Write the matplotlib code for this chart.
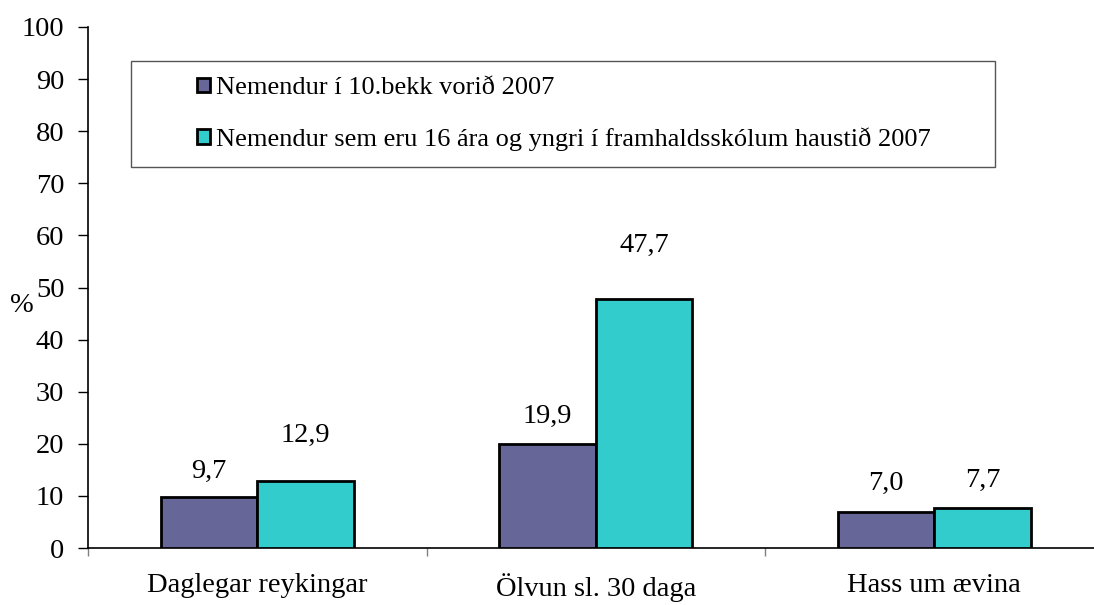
import numpy as np
import matplotlib.pyplot as plt
from matplotlib.patches import Rectangle

categories = ["Daglegar reykingar", "Ölvun sl. 30 daga", "Hass um ævina"]
series_names = ["Nemendur í 10.bekk vorið 2007",
                "Nemendur sem eru 16 ára og yngri í framhaldsskólum haustið 2007"]
grade10 = [9.7, 19.9, 7.0]
age16 = [12.9, 47.7, 7.7]

# label gap above each bar (points), as placed in the original
gap10 = [9.5, 11, 11.5]
gap16 = [24, 30, 11]

plt.rcParams['font.family'] = ['Liberation Serif', 'DejaVu Serif']

fig = plt.figure(figsize=(10.94, 6.05), dpi=100)
ax = fig.add_axes([88 / 1094, 1 - 548 / 605, 1 - 88 / 1094, (548 - 27) / 605])

x = np.arange(len(categories))
w = 0.285
b1 = ax.bar(x - w / 2, grade10, w, color='#666699', edgecolor='black', linewidth=2,
            label=series_names[0], zorder=3)
b2 = ax.bar(x + w / 2, age16, w, color='#33CCCC', edgecolor='black', linewidth=2,
            label=series_names[1], zorder=3)

for bars, gaps in ((b1, gap10), (b2, gap16)):
    for r, g in zip(bars, gaps):
        v = r.get_height()
        ax.annotate(f"{v:.1f}".replace('.', ','), (r.get_x() + r.get_width() / 2, v),
                    xytext=(0, g), textcoords='offset points', ha='center', va='bottom',
                    fontsize=20.5)

ax.set_xlim(-0.5, (1094 - 88) / 338.5 - 0.5)
ax.set_ylim(0, 100)
ax.set_yticks(range(0, 101, 10))
ax.tick_params(axis='y', labelsize=20.5, length=7, width=1, direction='out', pad=10)
ax.set_xticks(x)
ax.set_xticklabels(categories)
ax.tick_params(axis='x', labelsize=20.5, length=0, pad=18)
ax.set_xticks([-0.5, 0.5, 1.5], minor=True)
ax.tick_params(axis='x', which='minor', length=6, width=1, color='gray')
for s in ('top', 'right'):
    ax.spines[s].set_visible(False)
ax.spines['left'].set_linewidth(1.2)
ax.spines['bottom'].set_linewidth(1.2)
ax.set_ylabel('%', rotation=0, fontsize=20.5, va='center', ha='center')
ax.yaxis.set_label_coords((22 - 88) / 1006, (548 - 305) / 521)

# legend box drawn separately, entries placed inside
ax.add_patch(Rectangle(((131 - 88) / 1006, (548 - 167) / 521), (995 - 131) / 1006,
                       (167 - 61) / 521, transform=ax.transAxes, facecolor='white',
                       edgecolor='#555555', linewidth=1, zorder=4))
leg = ax.legend(loc='center left', bbox_to_anchor=((197 - 88) / 1006, (548 - 114) / 521),
                fontsize=19, frameon=False, handlelength=0.48, handleheight=0.48,
                handletextpad=0.25, labelspacing=1.05, borderpad=0, borderaxespad=0)
leg.set_zorder(5)

fig.savefig('out.png', dpi=100)
